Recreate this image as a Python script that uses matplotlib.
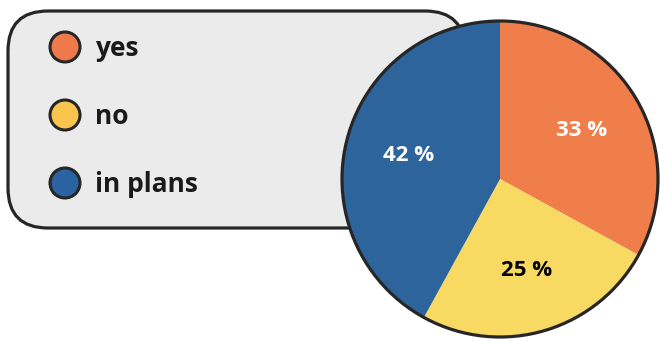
import matplotlib
matplotlib.use("Agg")
import matplotlib.pyplot as plt
from matplotlib.patches import FancyBboxPatch, Circle

categories = ["yes", "no", "in plans"]
shares = [33, 25, 42]
pie_colors = ["#F07E4A", "#F8DA62", "#2E649C"]
marker_colors = ["#EE7A4C", "#F9C54E", "#2B63A0"]
label_colors = ["white", "black", "white"]

W, H = 660, 341
fig = plt.figure(figsize=(W / 100, H / 100), dpi=100)
ax = fig.add_axes([0, 0, 1, 1])
ax.set_xlim(0, W)
ax.set_ylim(0, H)
ax.set_aspect("equal")
ax.axis("off")

font = ["Open Sans", "DejaVu Sans"]
edge = "#262626"

# rounded panel behind the legend entries
panel = FancyBboxPatch((8, H - 228), 457, 217,
                       boxstyle="round,pad=0,rounding_size=40",
                       facecolor="#EBEBEB", edgecolor=edge, linewidth=2.3, zorder=1)
ax.add_patch(panel)

# legend entries
for i, (name, col) in enumerate(zip(categories, marker_colors)):
    y = H - (47 + 68 * i)
    ax.add_patch(Circle((65, y), 15, facecolor=col, edgecolor=edge, linewidth=2.2, zorder=3))
    ax.text(95, y - 1, name, fontsize=19, fontweight="bold", family=font,
            color="#1a1a1a", va="center", ha="left", zorder=3)

# pie
cx, cy, r = 500, H - 179, 158
wedges, _, autotexts = ax.pie(shares, colors=pie_colors, startangle=90, counterclock=False,
                              center=(cx, cy), radius=r, autopct="%d %%",
                              pctdistance=0.6, frame=True,
                              wedgeprops=dict(linewidth=0),
                              textprops=dict(fontsize=16, fontweight="bold", family=font))
for w in wedges:
    w.set_zorder(4)
for t, c in zip(autotexts, label_colors):
    t.set_color(c)
    t.set_zorder(6)
ax.add_patch(Circle((cx, cy), r, facecolor="none", edgecolor=edge, linewidth=2.3, zorder=5))

ax.set_xlim(0, W)
ax.set_ylim(0, H)
ax.axis("off")

fig.savefig("out.png", dpi=100, facecolor="white")
